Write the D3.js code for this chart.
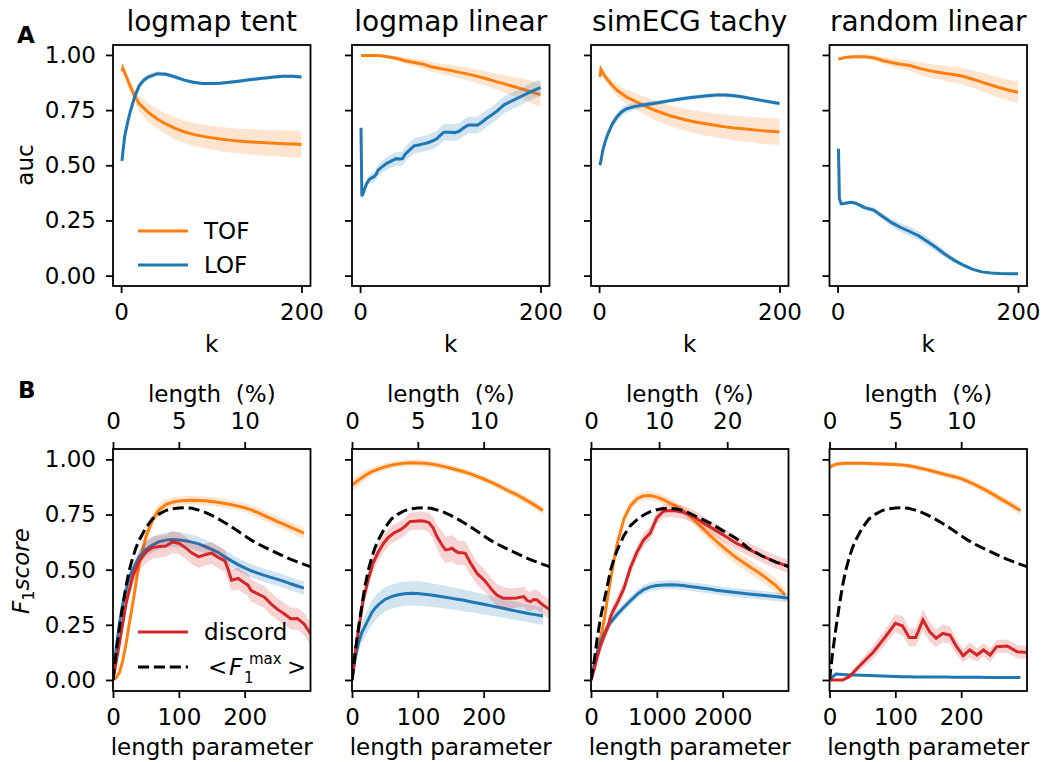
<!DOCTYPE html>
<html>
<head>
<meta charset="utf-8">
<script src="https://cdn.jsdelivr.net/npm/d3@7"></script>
<style>
  body { margin: 0; background: #fff; }
  svg text { font-family: "DejaVu Sans", sans-serif; fill: #000; }
</style>
</head>
<body>
<svg id="chart" width="1053" height="762"></svg>
<script>
// ---------- data: row A (auc vs k) ----------
const titles = ["logmap tent", "logmap linear", "simECG tachy", "random linear"];
const kGrid = [1, 2, 4, 7, 10, 15, 20, 25, 30, 40, 50, 60, 70, 80, 90, 100, 110, 120, 130, 140, 150, 160, 170, 180, 190, 200];

const tofTent   = [0.925, 0.94, 0.92, 0.89, 0.86, 0.815, 0.78, 0.76, 0.74, 0.71, 0.686, 0.667, 0.652, 0.64, 0.632, 0.625, 0.619, 0.614, 0.61, 0.607, 0.604, 0.602, 0.6, 0.598, 0.596, 0.594];
const tofTentSd = [0.005, 0.01, 0.015, 0.02, 0.025, 0.03, 0.035, 0.04, 0.042, 0.045, 0.047, 0.05, 0.05, 0.052, 0.053, 0.054, 0.055, 0.056, 0.056, 0.057, 0.058, 0.058, 0.059, 0.06, 0.06, 0.06];
const lofTent   = [0.52, 0.56, 0.63, 0.69, 0.74, 0.81, 0.86, 0.885, 0.9, 0.915, 0.912, 0.9, 0.886, 0.876, 0.871, 0.87, 0.872, 0.876, 0.881, 0.886, 0.891, 0.896, 0.9, 0.903, 0.903, 0.9];
const lofTentSd = [0.005, 0.008, 0.01, 0.012, 0.014, 0.015, 0.015, 0.015, 0.014, 0.012, 0.01, 0.01, 0.008, 0.008, 0.008, 0.008, 0.008, 0.008, 0.008, 0.008, 0.008, 0.008, 0.008, 0.008, 0.008, 0.008];

const tofLin   = [0.997, 0.997, 0.997, 0.997, 0.997, 0.997, 0.997, 0.995, 0.992, 0.985, 0.974, 0.966, 0.958, 0.945, 0.937, 0.93, 0.921, 0.913, 0.903, 0.892, 0.88, 0.869, 0.857, 0.845, 0.832, 0.82];
const tofLinSd = [0.003, 0.003, 0.003, 0.003, 0.003, 0.004, 0.005, 0.006, 0.008, 0.01, 0.015, 0.017, 0.019, 0.021, 0.023, 0.025, 0.027, 0.029, 0.031, 0.033, 0.035, 0.039, 0.043, 0.047, 0.051, 0.055];
const kLin     = [1, 2, 4, 7, 10, 13, 16, 18, 20, 25, 30, 35, 40, 44, 47, 50, 55, 60, 65, 70, 75, 80, 85, 90, 93, 100, 105, 110, 115, 120, 125, 130, 135, 140, 145, 150, 160, 170, 180, 190, 200];
const lofLin   = [0.67, 0.36, 0.38, 0.415, 0.435, 0.443, 0.45, 0.46, 0.478, 0.495, 0.51, 0.52, 0.53, 0.528, 0.53, 0.55, 0.57, 0.588, 0.592, 0.597, 0.602, 0.61, 0.62, 0.64, 0.65, 0.65, 0.648, 0.655, 0.67, 0.683, 0.683, 0.682, 0.695, 0.712, 0.725, 0.74, 0.775, 0.795, 0.815, 0.835, 0.852];
const lofLinSd = [0.01, 0.01, 0.015, 0.018, 0.02, 0.022, 0.024, 0.025, 0.026, 0.028, 0.03, 0.03, 0.031, 0.032, 0.032, 0.033, 0.034, 0.035, 0.035, 0.036, 0.036, 0.037, 0.037, 0.038, 0.038, 0.038, 0.038, 0.038, 0.038, 0.038, 0.038, 0.038, 0.038, 0.038, 0.038, 0.038, 0.038, 0.038, 0.038, 0.038, 0.038];

const tofEcg   = [0.9, 0.935, 0.92, 0.9, 0.885, 0.86, 0.84, 0.825, 0.81, 0.79, 0.77, 0.752, 0.737, 0.723, 0.712, 0.702, 0.694, 0.687, 0.68, 0.674, 0.669, 0.665, 0.661, 0.657, 0.654, 0.651];
const tofEcgSd = [0.01, 0.012, 0.015, 0.018, 0.02, 0.024, 0.027, 0.03, 0.032, 0.036, 0.04, 0.043, 0.045, 0.047, 0.049, 0.05, 0.052, 0.053, 0.054, 0.055, 0.056, 0.057, 0.058, 0.059, 0.06, 0.06];
const lofEcg   = [0.5, 0.52, 0.565, 0.61, 0.645, 0.69, 0.72, 0.742, 0.755, 0.767, 0.774, 0.78, 0.787, 0.794, 0.8, 0.806, 0.811, 0.815, 0.818, 0.818, 0.815, 0.809, 0.801, 0.794, 0.787, 0.78];
const lofEcgSd = [0.005, 0.008, 0.01, 0.012, 0.015, 0.018, 0.02, 0.02, 0.018, 0.015, 0.013, 0.012, 0.01, 0.01, 0.01, 0.01, 0.01, 0.01, 0.01, 0.01, 0.01, 0.008, 0.008, 0.008, 0.008, 0.008];

const tofRand   = [0.98, 0.982, 0.984, 0.987, 0.989, 0.991, 0.992, 0.992, 0.992, 0.987, 0.975, 0.966, 0.958, 0.952, 0.94, 0.93, 0.923, 0.916, 0.91, 0.902, 0.89, 0.877, 0.864, 0.851, 0.84, 0.831];
const tofRandSd = [0.005, 0.005, 0.005, 0.005, 0.006, 0.007, 0.008, 0.009, 0.01, 0.012, 0.015, 0.018, 0.021, 0.024, 0.027, 0.03, 0.032, 0.034, 0.036, 0.038, 0.04, 0.042, 0.044, 0.046, 0.048, 0.05];
const lofRand   = [0.575, 0.35, 0.326, 0.327, 0.329, 0.332, 0.328, 0.318, 0.308, 0.297, 0.268, 0.24, 0.218, 0.2, 0.18, 0.153, 0.125, 0.094, 0.068, 0.046, 0.028, 0.017, 0.012, 0.01, 0.009, 0.008];
const lofRandSd = [0.005, 0.008, 0.008, 0.008, 0.008, 0.008, 0.009, 0.01, 0.011, 0.013, 0.015, 0.018, 0.02, 0.021, 0.021, 0.02, 0.018, 0.015, 0.012, 0.009, 0.007, 0.005, 0.004, 0.004, 0.004, 0.004];

// ---------- data: row B (F1 score vs length) ----------
const lenGrid = [0, 5, 10, 15, 20, 25, 30, 35, 40, 50, 60, 70, 80, 90, 100, 110, 120, 130, 140, 150, 160, 170, 180, 190, 200, 210, 220, 230, 240, 250, 260, 270, 280, 290, 300];
const f1max   = [0, 0.13, 0.24, 0.34, 0.43, 0.5, 0.555, 0.6, 0.635, 0.69, 0.73, 0.752, 0.768, 0.776, 0.78, 0.781, 0.778, 0.77, 0.76, 0.746, 0.73, 0.713, 0.694, 0.674, 0.654, 0.634, 0.617, 0.602, 0.588, 0.574, 0.56, 0.547, 0.535, 0.524, 0.514];

const tofB1   = [0, 0.01, 0.035, 0.09, 0.166, 0.26, 0.347, 0.44, 0.529, 0.65, 0.725, 0.77, 0.795, 0.806, 0.811, 0.814, 0.815, 0.814, 0.812, 0.809, 0.805, 0.8, 0.794, 0.788, 0.781, 0.771, 0.759, 0.745, 0.731, 0.718, 0.705, 0.692, 0.679, 0.666, null];
const tofB1Sd = [0, 0.005, 0.01, 0.015, 0.02, 0.025, 0.03, 0.03, 0.03, 0.03, 0.03, 0.028, 0.025, 0.022, 0.02, 0.02, 0.02, 0.02, 0.02, 0.02, 0.02, 0.02, 0.02, 0.02, 0.02, 0.021, 0.022, 0.022, 0.023, 0.023, 0.024, 0.024, 0.025, 0.025, null];
const lofB1   = [0, 0.15, 0.26, 0.347, 0.41, 0.468, 0.5, 0.53, 0.559, 0.592, 0.612, 0.627, 0.634, 0.637, 0.635, 0.631, 0.625, 0.617, 0.605, 0.592, 0.578, 0.558, 0.54, 0.523, 0.508, 0.495, 0.484, 0.474, 0.465, 0.456, 0.447, 0.436, 0.426, 0.416, null];
const lofB1Sd = [0, 0.01, 0.02, 0.025, 0.03, 0.03, 0.03, 0.03, 0.032, 0.034, 0.035, 0.035, 0.035, 0.035, 0.035, 0.034, 0.033, 0.032, 0.031, 0.03, 0.03, 0.03, 0.03, 0.03, 0.03, 0.03, 0.03, 0.03, 0.03, 0.03, 0.03, 0.03, 0.03, 0.03, null];
const lenDiscB1 = [0, 10, 20, 30, 40, 50, 60, 70, 80, 90, 100, 110, 120, 130, 140, 150, 160, 170, 175, 180, 190, 200, 205, 210, 220, 230, 240, 250, 260, 270, 280, 290, 300];
const discB1    = [0, 0.17, 0.35, 0.47, 0.54, 0.58, 0.6, 0.605, 0.607, 0.625, 0.62, 0.6, 0.575, 0.558, 0.568, 0.575, 0.555, 0.54, 0.5, 0.452, 0.46, 0.44, 0.43, 0.405, 0.39, 0.375, 0.345, 0.32, 0.3, 0.278, 0.279, 0.255, 0.21];
const discB1Sd  = [0, 0.02, 0.03, 0.04, 0.045, 0.05, 0.05, 0.05, 0.05, 0.05, 0.05, 0.05, 0.05, 0.05, 0.05, 0.05, 0.05, 0.05, 0.05, 0.05, 0.05, 0.05, 0.05, 0.05, 0.05, 0.05, 0.05, 0.05, 0.05, 0.05, 0.05, 0.05, 0.05];

const tofB2   = [0.884, 0.895, 0.906, 0.917, 0.927, 0.936, 0.944, 0.95, 0.956, 0.966, 0.974, 0.979, 0.983, 0.985, 0.984, 0.982, 0.979, 0.974, 0.967, 0.96, 0.952, 0.944, 0.934, 0.923, 0.911, 0.898, 0.884, 0.869, 0.854, 0.84, 0.823, 0.806, 0.788, 0.768, null];
const tofB2Sd = [0.03, 0.028, 0.026, 0.024, 0.022, 0.02, 0.018, 0.017, 0.016, 0.015, 0.015, 0.015, 0.015, 0.015, 0.015, 0.015, 0.015, 0.015, 0.015, 0.015, 0.015, 0.015, 0.015, 0.015, 0.015, 0.015, 0.015, 0.015, 0.016, 0.016, 0.017, 0.017, 0.018, 0.018, null];
const lofB2   = [0, 0.1, 0.17, 0.215, 0.245, 0.275, 0.305, 0.325, 0.34, 0.365, 0.378, 0.386, 0.391, 0.393, 0.392, 0.389, 0.385, 0.381, 0.376, 0.371, 0.366, 0.361, 0.355, 0.349, 0.343, 0.337, 0.331, 0.325, 0.318, 0.312, 0.306, 0.3, 0.295, 0.29, null];
const lofB2Sd = [0, 0.03, 0.04, 0.045, 0.05, 0.052, 0.054, 0.055, 0.055, 0.055, 0.055, 0.055, 0.055, 0.055, 0.055, 0.055, 0.054, 0.053, 0.052, 0.051, 0.05, 0.049, 0.048, 0.047, 0.046, 0.045, 0.044, 0.043, 0.042, 0.041, 0.04, 0.04, 0.04, 0.04, null];
const lenDiscB2 = [0, 7, 17, 25, 32, 40, 48, 55, 63, 73, 80, 88, 95, 104, 110, 117, 123, 129, 136, 142, 147, 152, 157, 162, 167, 172, 180, 190, 200, 205, 212, 220, 230, 241, 250, 261, 266, 271, 276, 281, 290, 300];
const discB2    = [0, 0.17, 0.36, 0.46, 0.53, 0.58, 0.62, 0.645, 0.665, 0.68, 0.695, 0.718, 0.72, 0.722, 0.72, 0.713, 0.69, 0.65, 0.615, 0.59, 0.592, 0.597, 0.585, 0.577, 0.577, 0.574, 0.53, 0.483, 0.455, 0.438, 0.41, 0.385, 0.37, 0.37, 0.372, 0.378, 0.36, 0.355, 0.365, 0.363, 0.34, 0.32];
const discB2Sd  = [0, 0.02, 0.03, 0.035, 0.04, 0.04, 0.04, 0.04, 0.04, 0.04, 0.04, 0.04, 0.04, 0.04, 0.04, 0.045, 0.05, 0.055, 0.06, 0.06, 0.06, 0.06, 0.06, 0.055, 0.055, 0.055, 0.055, 0.05, 0.05, 0.05, 0.05, 0.05, 0.05, 0.045, 0.045, 0.045, 0.045, 0.045, 0.045, 0.045, 0.045, 0.045];

const lenGridEcg = [0, 50, 100, 150, 200, 250, 300, 350, 400, 500, 600, 700, 800, 900, 1000, 1100, 1200, 1300, 1400, 1500, 1600, 1700, 1800, 1900, 2000, 2200, 2400, 2600, 2800, 2950, 3000];
const tofB3     = [0, 0.06, 0.13, 0.2, 0.27, 0.37, 0.46, 0.545, 0.62, 0.73, 0.79, 0.822, 0.835, 0.836, 0.829, 0.817, 0.802, 0.787, 0.767, 0.744, 0.716, 0.686, 0.657, 0.63, 0.604, 0.556, 0.515, 0.476, 0.43, 0.385, null];
const tofB3Sd   = [0, 0.01, 0.015, 0.02, 0.02, 0.02, 0.02, 0.02, 0.02, 0.02, 0.02, 0.02, 0.02, 0.02, 0.02, 0.02, 0.02, 0.02, 0.02, 0.022, 0.024, 0.026, 0.028, 0.03, 0.03, 0.03, 0.03, 0.03, 0.03, 0.03, null];
const lofB3     = [0, 0.07, 0.13, 0.175, 0.21, 0.24, 0.262, 0.28, 0.298, 0.33, 0.36, 0.388, 0.41, 0.422, 0.428, 0.431, 0.432, 0.431, 0.428, 0.424, 0.42, 0.416, 0.412, 0.407, 0.403, 0.396, 0.39, 0.384, 0.378, 0.373, 0.371];
const lofB3Sd   = [0, 0.01, 0.015, 0.018, 0.02, 0.02, 0.02, 0.02, 0.02, 0.02, 0.02, 0.02, 0.02, 0.02, 0.02, 0.02, 0.02, 0.02, 0.02, 0.02, 0.02, 0.02, 0.02, 0.02, 0.02, 0.02, 0.02, 0.02, 0.02, 0.02, 0.02];
const discB3    = [0, 0.05, 0.11, 0.16, 0.2, 0.235, 0.29, 0.322, 0.35, 0.415, 0.51, 0.58, 0.635, 0.666, 0.735, 0.765, 0.768, 0.766, 0.76, 0.748, 0.733, 0.712, 0.695, 0.677, 0.659, 0.621, 0.592, 0.562, 0.535, 0.52, 0.514];
const discB3Sd  = [0, 0.01, 0.02, 0.025, 0.03, 0.03, 0.03, 0.03, 0.03, 0.03, 0.03, 0.03, 0.03, 0.03, 0.03, 0.03, 0.03, 0.03, 0.03, 0.03, 0.03, 0.03, 0.03, 0.03, 0.03, 0.03, 0.03, 0.03, 0.03, 0.03, 0.03];
const f1maxB3   = [0, 0.09, 0.2, 0.29, 0.36, 0.43, 0.5, 0.55, 0.59, 0.655, 0.7, 0.727, 0.748, 0.763, 0.772, 0.777, 0.778, 0.775, 0.768, 0.755, 0.741, 0.727, 0.712, 0.695, 0.677, 0.643, 0.595, 0.562, 0.535, 0.52, 0.514];

const tofB4   = [0.964, 0.972, 0.978, 0.98, 0.981, 0.982, 0.982, 0.982, 0.982, 0.982, 0.981, 0.98, 0.979, 0.978, 0.977, 0.975, 0.971, 0.965, 0.959, 0.952, 0.944, 0.936, 0.928, 0.921, 0.913, 0.9, 0.887, 0.872, 0.856, 0.839, 0.821, 0.804, 0.786, 0.768, null];
const tofB4Sd = [0.01, 0.01, 0.01, 0.01, 0.01, 0.01, 0.01, 0.01, 0.01, 0.01, 0.01, 0.01, 0.01, 0.01, 0.01, 0.01, 0.011, 0.012, 0.012, 0.013, 0.013, 0.014, 0.014, 0.015, 0.015, 0.015, 0.016, 0.016, 0.017, 0.017, 0.018, 0.018, 0.019, 0.02, null];
const lofB4   = [0, 0.015, 0.027, 0.026, 0.025, 0.024, 0.023, 0.022, 0.022, 0.021, 0.02, 0.019, 0.018, 0.017, 0.016, 0.015, 0.015, 0.014, 0.014, 0.014, 0.013, 0.013, 0.013, 0.012, 0.012, 0.012, 0.012, 0.012, 0.011, 0.011, 0.011, 0.011, 0.011, 0.011, null];
const lofB4Sd = [0, 0.004, 0.005, 0.005, 0.005, 0.005, 0.005, 0.005, 0.005, 0.005, 0.005, 0.005, 0.005, 0.005, 0.005, 0.005, 0.005, 0.005, 0.005, 0.005, 0.005, 0.005, 0.005, 0.005, 0.005, 0.005, 0.005, 0.005, 0.005, 0.005, 0.005, 0.005, 0.005, 0.005, null];
const lenDiscB4 = [0, 20, 30, 47, 67, 85, 100, 111, 121, 131, 142, 152, 162, 172, 183, 193, 203, 213, 224, 234, 244, 254, 270, 285, 300];
const discB4    = [0, 0, 0.015, 0.068, 0.128, 0.196, 0.257, 0.245, 0.193, 0.193, 0.272, 0.219, 0.189, 0.211, 0.204, 0.151, 0.11, 0.136, 0.113, 0.136, 0.113, 0.151, 0.154, 0.128, 0.124];
const discB4Sd  = [0, 0.005, 0.01, 0.02, 0.03, 0.035, 0.04, 0.045, 0.04, 0.04, 0.05, 0.045, 0.04, 0.04, 0.04, 0.035, 0.03, 0.035, 0.03, 0.03, 0.03, 0.03, 0.03, 0.03, 0.03];

// ---------- layout ----------
const ORANGE = "#ff7f0e", BLUE = "#1f77b4", RED = "#d62728";
const FONT = 23;
const colLeft = [113, 352, 591, 829.5];
const panelW = 197.5;
const rowA = {top: 45, bottom: 286, ydom: [-0.047, 1.045]};
const rowB = {top: 449, bottom: 691, ydom: [-0.05, 1.047]};
const yTicks = [0, 0.25, 0.5, 0.75, 1.0];

const svg = d3.select("#chart");

const panelsA = [
  [{x: kGrid, y: tofTent, sd: tofTentSd, c: ORANGE}, {x: kGrid, y: lofTent, sd: lofTentSd, c: BLUE}],
  [{x: kGrid, y: tofLin, sd: tofLinSd, c: ORANGE}, {x: kLin, y: lofLin, sd: lofLinSd, c: BLUE}],
  [{x: kGrid, y: tofEcg, sd: tofEcgSd, c: ORANGE}, {x: kGrid, y: lofEcg, sd: lofEcgSd, c: BLUE}],
  [{x: kGrid, y: tofRand, sd: tofRandSd, c: ORANGE}, {x: kGrid, y: lofRand, sd: lofRandSd, c: BLUE}]
];

const panelsB = [
  {xdom: [0, 300], xt: [0, 100, 200], pdom: [0, 15], pt: [0, 5, 10], s: [
    {x: lenGrid, y: tofB1, sd: tofB1Sd, c: ORANGE},
    {x: lenGrid, y: lofB1, sd: lofB1Sd, c: BLUE},
    {x: lenDiscB1, y: discB1, sd: discB1Sd, c: RED},
    {x: lenGrid, y: f1max, c: "#000", dash: true}]},
  {xdom: [0, 300], xt: [0, 100, 200], pdom: [0, 15], pt: [0, 5, 10], s: [
    {x: lenGrid, y: tofB2, sd: tofB2Sd, c: ORANGE},
    {x: lenGrid, y: lofB2, sd: lofB2Sd, c: BLUE},
    {x: lenDiscB2, y: discB2, sd: discB2Sd, c: RED},
    {x: lenGrid, y: f1max, c: "#000", dash: true}]},
  {xdom: [0, 3000], xt: [0, 1000, 2000], pdom: [0, 29], pt: [0, 10, 20], s: [
    {x: lenGridEcg, y: tofB3, sd: tofB3Sd, c: ORANGE},
    {x: lenGridEcg, y: lofB3, sd: lofB3Sd, c: BLUE},
    {x: lenGridEcg, y: discB3, sd: discB3Sd, c: RED},
    {x: lenGridEcg, y: f1maxB3, c: "#000", dash: true}]},
  {xdom: [0, 300], xt: [0, 100, 200], pdom: [0, 15], pt: [0, 5, 10], s: [
    {x: lenGrid, y: tofB4, sd: tofB4Sd, c: ORANGE},
    {x: lenGrid, y: lofB4, sd: lofB4Sd, c: BLUE},
    {x: lenDiscB4, y: discB4, sd: discB4Sd, c: RED},
    {x: lenGrid, y: f1max, c: "#000", dash: true}]}
];

function styleAxis(ax) {
  ax.select(".domain").remove();
  ax.selectAll(".tick line").attr("stroke", "#000").attr("stroke-width", 1.8);
  ax.selectAll(".tick text").attr("font-size", FONT).attr("font-family", "DejaVu Sans").attr("fill", "#000");
}

function drawSeries(g, x, y, series, clipId) {
  const plot = g.append("g").attr("clip-path", `url(#${clipId})`);
  series.forEach(s => {
    const idx = d3.range(s.x.length).filter(i => s.y[i] !== null);
    if (s.sd) {
      plot.append("path")
        .attr("fill", s.c).attr("fill-opacity", 0.2).attr("stroke", "none")
        .attr("d", d3.area()
          .x(i => x(s.x[i]))
          .y0(i => y(s.y[i] - s.sd[i]))
          .y1(i => y(s.y[i] + s.sd[i]))(idx));
    }
    plot.append("path")
      .attr("fill", "none").attr("stroke", s.c).attr("stroke-width", 3)
      .attr("stroke-dasharray", s.dash ? "11.1,4.8" : null)
      .attr("d", d3.line().x(i => x(s.x[i])).y(i => y(s.y[i]))(idx));
  });
}

function makePanel(col, row, xdom, series, name) {
  const h = row.bottom - row.top;
  const g = svg.append("g").attr("transform", `translate(${colLeft[col]},${row.top})`);
  const x = d3.scaleLinear().domain(xdom).range([0, panelW]);
  const y = d3.scaleLinear().domain(row.ydom).range([h, 0]);
  const clipId = `clip-${name}-${col}`;
  svg.append("defs").append("clipPath").attr("id", clipId)
    .append("rect").attr("width", panelW).attr("height", h);

  drawSeries(g, x, y, series, clipId);

  const ay = g.append("g").call(d3.axisLeft(y).tickValues(yTicks).tickSize(7).tickPadding(10)
    .tickFormat(col === 0 ? d3.format(".2f") : () => ""));
  styleAxis(ay);

  g.append("rect").attr("width", panelW).attr("height", h)
    .attr("fill", "none").attr("stroke", "#000").attr("stroke-width", 1.8);
  return {g, x, y, h};
}

// ---------- row A ----------
panelsA.forEach((series, col) => {
  const p = makePanel(col, rowA, [-8.95, 209.95], series, "a");
  const ax = p.g.append("g").attr("transform", `translate(0,${p.h})`)
    .call(d3.axisBottom(p.x).tickValues([0, 200]).tickSize(7).tickPadding(11));
  styleAxis(ax);
  p.g.append("text").attr("x", panelW / 2).attr("y", -14).attr("text-anchor", "middle")
    .attr("font-size", 28).text(titles[col]);
  p.g.append("text").attr("x", panelW / 2).attr("y", p.h + 66).attr("text-anchor", "middle")
    .attr("font-size", FONT).text("k");
});

// ---------- row B ----------
panelsB.forEach((pb, col) => {
  const p = makePanel(col, rowB, pb.xdom, pb.s, "b");
  const ax = p.g.append("g").attr("transform", `translate(0,${p.h})`)
    .call(d3.axisBottom(p.x).tickValues(pb.xt).tickSize(7).tickPadding(11).tickFormat(d3.format("d")));
  styleAxis(ax);
  const pct = d3.scaleLinear().domain(pb.pdom).range([0, panelW]);
  const at = p.g.append("g")
    .call(d3.axisTop(pct).tickValues(pb.pt).tickSize(7).tickPadding(13).tickFormat(d3.format("d")));
  styleAxis(at);
  p.g.append("text").attr("x", panelW / 2).attr("y", -47).attr("text-anchor", "middle")
    .attr("font-size", FONT).attr("xml:space", "preserve").text("length  (%)");
  p.g.append("text").attr("x", panelW / 2).attr("y", p.h + 64).attr("text-anchor", "middle")
    .attr("font-size", FONT).text("length parameter");
});

// ---------- labels ----------
svg.append("text").attr("x", 17).attr("y", 43).attr("font-size", 23).attr("font-weight", "bold").text("A");
svg.append("text").attr("x", 18).attr("y", 398).attr("font-size", 23).attr("font-weight", "bold").text("B");

svg.append("text").attr("transform", "translate(33,165) rotate(-90)").attr("text-anchor", "middle")
  .attr("font-size", FONT).text("auc");

const yl = svg.append("text").attr("transform", "translate(29,571) rotate(-90)")
  .attr("text-anchor", "middle").attr("font-size", FONT);
yl.append("tspan").attr("font-style", "italic").text("F");
yl.append("tspan").attr("font-size", FONT * 0.7).attr("dy", 5).text("1");
yl.append("tspan").attr("font-style", "italic").attr("dy", -5).text("score");

// ---------- legends ----------
function legendLine(yPos, color, dash) {
  svg.append("line").attr("x1", 138).attr("x2", 188).attr("y1", yPos).attr("y2", yPos)
    .attr("stroke", color).attr("stroke-width", 3)
    .attr("stroke-dasharray", dash ? "11.1,4.8" : null);
}
legendLine(231, ORANGE);
svg.append("text").attr("x", 204).attr("y", 239).attr("font-size", FONT).text("TOF");
legendLine(265, BLUE);
svg.append("text").attr("x", 204).attr("y", 273).attr("font-size", FONT).text("LOF");

legendLine(632, RED);
svg.append("text").attr("x", 204).attr("y", 640).attr("font-size", FONT).text("discord");
legendLine(667, "#000", true);
svg.append("text").attr("x", 208).attr("y", 675).attr("font-size", FONT).text("<");
svg.append("text").attr("x", 229).attr("y", 675).attr("font-size", FONT).attr("font-style", "italic").text("F");
svg.append("text").attr("x", 244).attr("y", 683).attr("font-size", 15).text("1");
svg.append("text").attr("x", 249).attr("y", 664).attr("font-size", 15).text("max");
svg.append("text").attr("x", 287).attr("y", 675).attr("font-size", FONT).text(">");
</script>
</body>
</html>
